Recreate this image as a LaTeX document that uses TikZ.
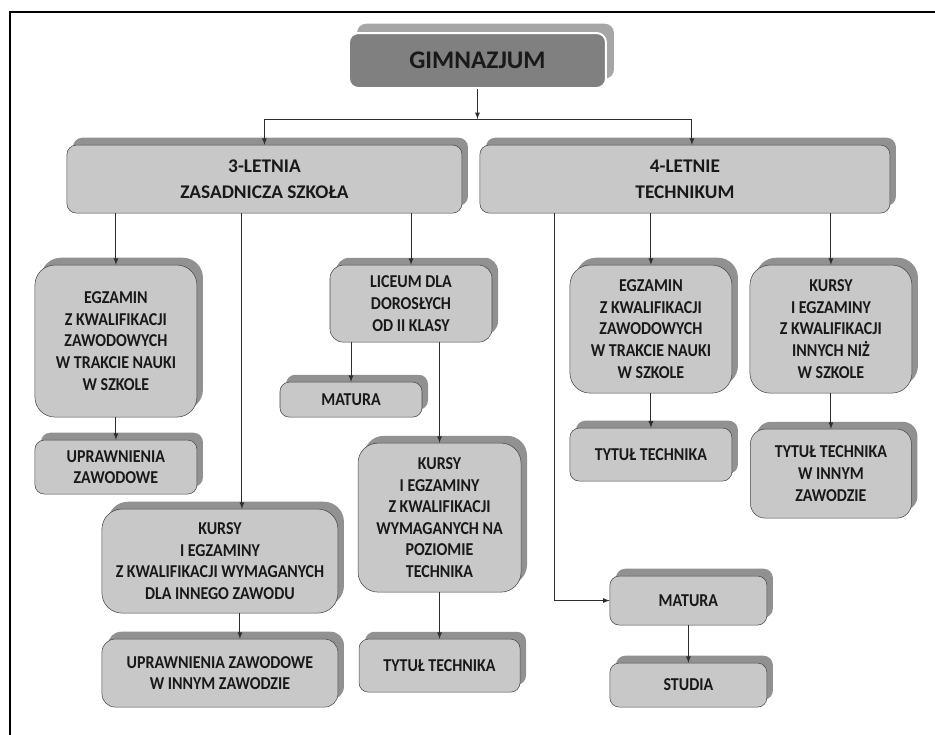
\documentclass[tikz,border=0pt]{standalone}
\usepackage{fontspec}
\setmainfont{Carlito}
\newfontfamily\narrowfont[FakeStretch=0.88]{Carlito}
\usepackage{tikz}
\usetikzlibrary{shadows}
\definecolor{boxfill}{RGB}{200,200,200}
\definecolor{boxline}{RGB}{70,70,70}
\definecolor{shadowgray}{RGB}{145,145,145}
\definecolor{gimfill}{RGB}{128,128,128}
\definecolor{gimshadow}{RGB}{166,166,166}
\definecolor{linegray}{RGB}{45,45,45}
\begin{document}
\begin{tikzpicture}[>=latex,
			main/.style = {draw=boxline, fill=boxfill, inner sep=0pt, align=center, rounded corners=7pt, text=black!90, font=\fontsize{13.6}{16.2}\narrowfont\bfseries, drop shadow={shadow xshift=4.5pt, shadow yshift=5.5pt, fill=shadowgray, opacity=1}},
			headbox/.style = {main, font=\fontsize{14.5}{19.5}\selectfont\bfseries},
			roundbox/.style = {main, rounded corners=15pt},
			gimbox/.style = {draw=white, line width=1.5pt, fill=gimfill, inner sep=0pt, rounded corners=7pt, text=black!90, font=\fontsize{19}{21}\selectfont\bfseries, drop shadow={shadow xshift=6pt, shadow yshift=7pt, fill=gimshadow, opacity=1}},
			conn/.style = {draw=linegray, line width=0.7pt}]
			\useasboundingbox (0,0) rectangle (701.25pt,-551.25pt);
			\draw[line width=2pt] (7.5pt,-551.25pt) -- (7.5pt,-9pt) -- (701.25pt,-9pt);
			
			\node[gimbox, minimum width=192.75pt, minimum height=41.25pt] (gim) at (358.1pt,-45.4pt) {GIMNAZJUM};
			\node[headbox, below of=gim, node distance=88.9pt, xshift=-159.75pt, minimum width=296.25pt, minimum height=51pt] (zs) {3-LETNIA\\ZASADNICZA SZKOŁA};
			\node[headbox, below of=gim, node distance=88.9pt, xshift=155.6pt, minimum width=307.5pt, minimum height=51pt] (tech) {4-LETNIE\\TECHNIKUM};
			\coordinate (split) at ([yshift=-43.9pt]gim.center);
			\draw[conn, ->] (gim) -- (split);
			\draw[conn, ->] (split) -| (zs);
			\draw[conn, ->] (split) -| ([xshift=5.25pt]tech.north);
			
			\node[roundbox, below of=zs, node distance=121.5pt, xshift=-111.4pt, minimum width=121.5pt, minimum height=114pt] (egz1) {EGZAMIN\\Z KWALIFIKACJI\\ZAWODOWYCH\\W TRAKCIE NAUKI\\W SZKOLE};
			\node[main, below of=egz1, node distance=94.5pt, minimum width=121.5pt, minimum height=40.5pt] (upr1) {UPRAWNIENIA\\ZAWODOWE};
			\node[main, below of=zs, node distance=93.4pt, xshift=109.9pt, minimum width=121.5pt, minimum height=57.75pt, rounded corners=10pt] (lic) {LICEUM DLA\\DOROSŁYCH\\OD II KLASY};
			\node[main, below of=lic, node distance=72pt, xshift=-45pt, minimum width=106.5pt, minimum height=26.25pt] (mat1) {MATURA};
			\node[roundbox, below of=lic, node distance=160.5pt, xshift=21.4pt, minimum width=122.25pt, minimum height=111.75pt] (kur2) {KURSY\\I EGZAMINY\\Z KWALIFIKACJI\\WYMAGANYCH NA\\POZIOMIE\\TECHNIKA};
			\node[main, below of=kur2, node distance=111pt, minimum width=120.75pt, minimum height=39.75pt] (tyt2) {TYTUŁ TECHNIKA};
			\node[roundbox, below of=zs, node distance=286.5pt, xshift=-33.4pt, minimum width=177pt, minimum height=78pt] (kur1) {KURSY\\I EGZAMINY\\Z KWALIFIKACJI WYMAGANYCH\\DLA INNEGO ZAWODU};
			\node[main, below of=kur1, node distance=84pt, minimum width=177pt, minimum height=51pt, rounded corners=10pt] (upr2) {UPRAWNIENIA ZAWODOWE\\W INNYM ZAWODZIE};
			\draw[conn, ->] (zs.south -| egz1) -- (egz1);
			\draw[conn, ->] (egz1) -- (upr1);
			\draw[conn, ->] (zs.south -| lic) -- (lic);
			\draw[conn, ->] (lic.south -| mat1) -- (mat1);
			\draw[conn, ->] (lic.south -| kur2) -- (kur2);
			\draw[conn, ->] (kur2) -- (tyt2);
			\coordinate (k1in) at ([xshift=16.5pt]kur1.north);
			\coordinate (k1out) at ([xshift=15pt]kur1.south);
			\draw[conn, ->] (zs.south -| k1in) -- (k1in);
			\draw[conn, ->] (k1out) -- (upr2.north -| k1out);
			
			\node[roundbox, below of=tech, node distance=112.5pt, xshift=-25.5pt, minimum width=121.5pt, minimum height=96pt] (egz2) {EGZAMIN\\Z KWALIFIKACJI\\ZAWODOWYCH\\W TRAKCIE NAUKI\\W SZKOLE};
			\node[roundbox, right of=egz2, node distance=135pt, minimum width=121.5pt, minimum height=96pt] (kur3) {KURSY\\I EGZAMINY\\Z KWALIFIKACJI\\INNYCH NIŻ\\W SZKOLE};
			\node[main, below of=egz2, node distance=94.1pt, minimum width=121.5pt, minimum height=39.75pt] (tyt3) {TYTUŁ TECHNIKA};
			\node[main, below of=kur3, node distance=108.4pt, minimum width=120.75pt, minimum height=66.75pt, rounded corners=11pt] (tyt4) {TYTUŁ TECHNIKA\\W INNYM\\ZAWODZIE};
			\node[main, below of=tech, node distance=316.1pt, xshift=2.6pt, minimum width=117.75pt, minimum height=36.75pt] (mat2) {MATURA};
			\node[main, below of=mat2, node distance=63.4pt, minimum width=117.75pt, minimum height=33pt] (stu) {STUDIA};
			\draw[conn, ->] (tech.south -| egz2) -- (egz2);
			\draw[conn, ->] (tech.south -| kur3) -- (kur3);
			\draw[conn, ->] (egz2) -- (tyt3);
			\draw[conn, ->] (kur3) -- (tyt4);
			\coordinate (tmat) at ([xshift=-97.5pt]tech.south);
			\draw[conn, ->] (tmat) |- (mat2);
			\draw[conn, ->] (mat2) -- (stu);
			
\end{tikzpicture}
\end{document}
